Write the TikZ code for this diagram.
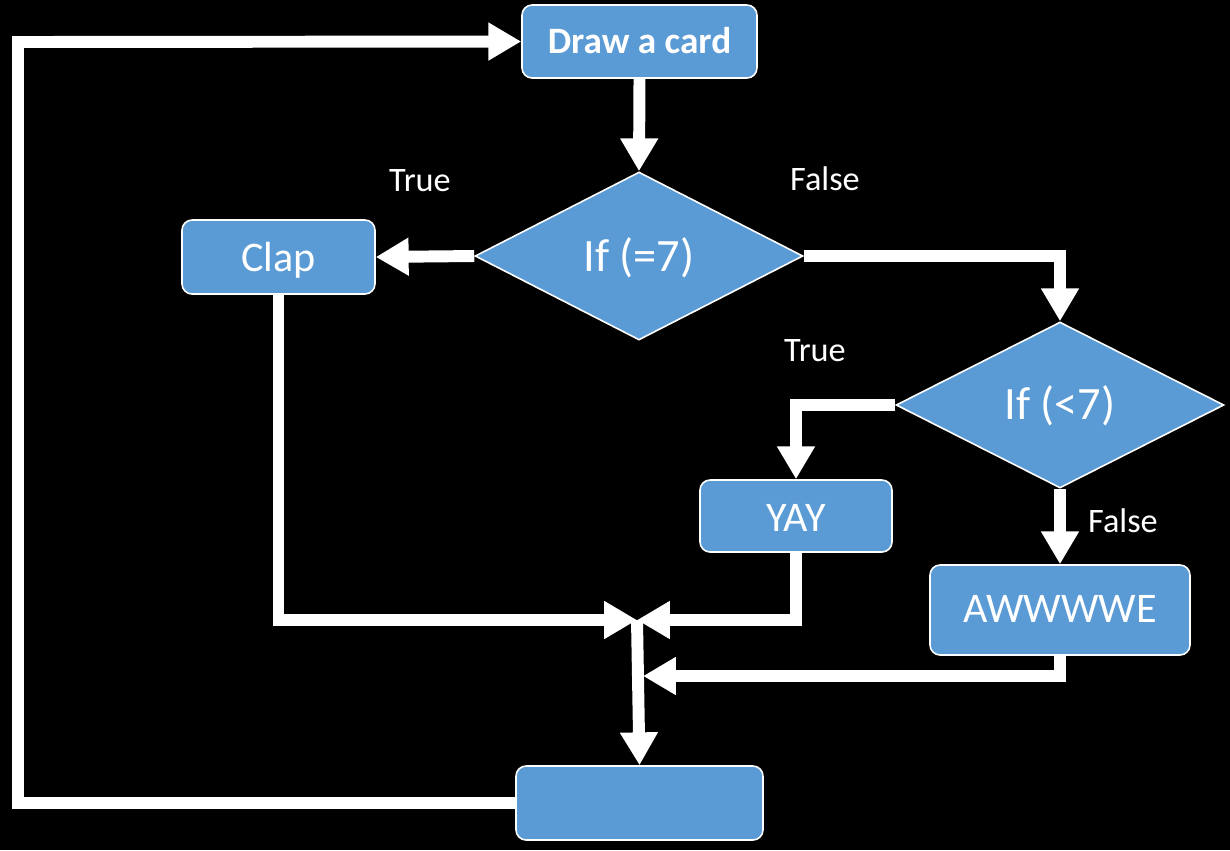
\documentclass[tikz,border=0pt]{standalone}
\usepackage{fontspec}
\setmainfont{Carlito}
\usetikzlibrary{arrows.meta,shapes.geometric}
\definecolor{boxblue}{RGB}{91,155,213}
\tikzset{
  box/.style={draw=white, line width=0.9pt, fill=boxblue, rounded corners=0.2cm, text=white, inner sep=0pt, text depth=0pt, font=\fontsize{24}{28}\selectfont},
  decision/.style={diamond, draw=white, line width=0.9pt, fill=boxblue, text=white, inner sep=0pt, text depth=0pt, aspect=1.95, font=\fontsize{26.4}{30}\selectfont},
  lbl/.style={text=white, font=\fontsize{19.5}{22}\selectfont, inner sep=0pt},
  conn/.style={draw=white, line width=6.8pt, -{Triangle[length=18.7pt,width=20.4pt]}}
}
\begin{document}
\begin{tikzpicture}[x=0.02cm, y=-0.02cm]
\fill[black] (0,0) rectangle (1230,850);
\useasboundingbox (0,0) rectangle (1230,850);

\node[box, minimum width=4.7cm, minimum height=1.46cm, text height=13.5pt, font=\bfseries\fontsize{21.2}{25}\selectfont] (card) at (639.5,41.5) {Draw a card};
\node[decision, minimum width=6.56cm, minimum height=3.36cm, text height=18pt] (d1) at (639,256) {If (=7)};
\node[box, minimum width=3.86cm, minimum height=1.48cm, text height=17pt] (clap) at (278.5,257) {Clap};
\node[decision, minimum width=6.56cm, minimum height=3.32cm, text height=17pt] (d2) at (1060,405) {If (<7)};
\node[box, minimum width=3.84cm, minimum height=1.44cm, text height=18pt] (yay) at (796,516) {YAY};
\node[box, minimum width=5.2cm, minimum height=1.8cm, text height=14.7pt] (aww) at (1060,610) {AWWWWE};
\node[box, minimum width=4.94cm, minimum height=1.48cm] (bot) at (639.5,803) {};

\node[lbl] (t1) at (420,181) {True};
\node[lbl] (f1) at (825,179) {False};
\node[lbl] (t2) at (815,351) {True};
\node[lbl] (f2) at (1123,521) {False};

\coordinate (J) at (637,620);
\coordinate (J2) at (643,676);
\coordinate (L) at (18,42);

\draw[conn] (card.south) -- (d1.north);
\draw[conn] (d1.west) -- (clap.east);
\draw[conn] (d1.east) -| (d2.north);
\draw[conn] (d2.west) -| (yay.north);
\draw[conn] (d2.south) -- (aww.north);
\draw[conn] (clap.south) |- (J);
\draw[conn] (yay.south) |- (J);
\draw[conn] (aww.south) |- (J2);
\draw[conn] (J) -- (bot.north);
\draw[conn] (bot.west) -| (L) -- (card.west);
\end{tikzpicture}
\end{document}
